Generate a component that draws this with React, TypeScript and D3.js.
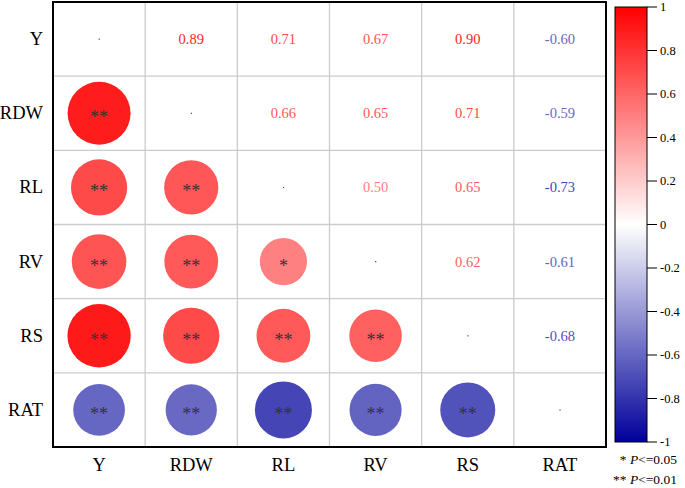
import React from "react";
import * as d3 from "d3";

const variables = ["Y", "RDW", "RL", "RV", "RS", "RAT"];
// correlation matrix (symmetric)
const corrY = [1, 0.89, 0.71, 0.67, 0.90, -0.60];
const corrRDW = [0.89, 1, 0.66, 0.65, 0.71, -0.59];
const corrRL = [0.71, 0.66, 1, 0.50, 0.65, -0.73];
const corrRV = [0.67, 0.65, 0.50, 1, 0.62, -0.61];
const corrRS = [0.90, 0.71, 0.65, 0.62, 1, -0.68];
const corrRAT = [-0.60, -0.59, -0.73, -0.61, -0.68, 1];
const matrix = [corrY, corrRDW, corrRL, corrRV, corrRS, corrRAT];
// significance stars for lower triangle
const sigY = ["", "", "", "", "", ""];
const sigRDW = ["**", "", "", "", "", ""];
const sigRL = ["**", "**", "", "", "", ""];
const sigRV = ["**", "**", "*", "", "", ""];
const sigRS = ["**", "**", "**", "**", "", ""];
const sigRAT = ["**", "**", "**", "**", "**", ""];
const sigMatrix = [sigY, sigRDW, sigRL, sigRV, sigRS, sigRAT];
const colorbarTicks = [1, 0.8, 0.6, 0.4, 0.2, 0, -0.2, -0.4, -0.6, -0.8, -1];

const W = 685;
const H = 488;
const FONT = "Liberation Serif";
const fmt2 = (v: number) => v.toFixed(2);
const fmtTick = (v: number) => String(v);

export default function App() {
  const x0 = 53, x1 = 606, y0 = 2, y1 = 447;
  const xs = d3.scaleBand<string>().domain(variables).range([x0, x1]);
  const ys = d3.scaleBand<string>().domain(variables).range([y0, y1]);
  const color = d3
    .scaleLinear<string>()
    .domain([-1, 0, 1])
    .range(["#00009B", "#FFFFFF", "#FF0000"])
    .interpolate(d3.interpolateRgb);
  const cellMin = Math.min(xs.bandwidth(), ys.bandwidth());
  const rScale = d3.scaleSqrt().domain([0, 1]).range([0, cellMin * 0.45]);

  const cbX = 615, cbW = 32, cbTop = 7, cbBottom = 442;
  const cbScale = d3.scaleLinear().domain([-1, 1]).range([cbBottom, cbTop]);
  const gradStops = d3.range(0, 21).map((i) => -1 + i * 0.1);
  const ts = { fontFamily: FONT };

  const cells: React.ReactNode[] = [];
  variables.forEach((rv, i) => {
    variables.forEach((cv, j) => {
      const cx = xs(cv)! + xs.bandwidth() / 2;
      const cy = ys(rv)! + ys.bandwidth() / 2;
      const v = matrix[i][j];
      if (i === j) {
        cells.push(<rect key={`d${i}`} x={cx - 0.5} y={cy - 0.5} width={1.2} height={1.2} fill="#444" />);
      } else if (i > j) {
        cells.push(
          <g key={`c${i}-${j}`}>
            <circle cx={cx} cy={cy} r={rScale(Math.abs(v))} fill={color(v)} />
            <text x={cx} y={cy + 10} textAnchor="middle" fontSize={18} fill="#333" style={ts}>
              {sigMatrix[i][j]}
            </text>
          </g>
        );
      } else {
        cells.push(
          <text key={`t${i}-${j}`} x={cx} y={cy + 5} textAnchor="middle" fontSize={14.5} fill={color(v)} style={ts}>
            {fmt2(v)}
          </text>
        );
      }
    });
  });

  return (
    <div style={{ position: "absolute", left: 0, top: 0 }}>
      <svg width={W} height={H} style={{ display: "block", background: "#fff", fontFamily: FONT }}>
        <defs>
          <linearGradient id="cbGrad" x1="0" y1="1" x2="0" y2="0">
            {gradStops.map((s, k) => (
              <stop key={k} offset={(s + 1) / 2} stopColor={color(s)} />
            ))}
          </linearGradient>
        </defs>
        {/* grid */}
        {variables.slice(1).map((v) => (
          <line key={`gv${v}`} x1={xs(v)} x2={xs(v)} y1={y0} y2={y1} stroke="#cccccc" strokeWidth={1.3} />
        ))}
        {variables.slice(1).map((v) => (
          <line key={`gh${v}`} x1={x0} x2={x1} y1={ys(v)} y2={ys(v)} stroke="#cccccc" strokeWidth={1.3} />
        ))}
        {cells}
        <rect x={x0} y={y0} width={x1 - x0} height={y1 - y0} fill="none" stroke="#000" strokeWidth={2} />
        {/* axis labels */}
        {variables.map((v) => (
          <text key={`yl${v}`} x={43} y={ys(v)! + ys.bandwidth() / 2 + 6} textAnchor="end" fontSize={18.5} fill="#000" style={ts}>
            {v}
          </text>
        ))}
        {variables.map((v) => (
          <text key={`xl${v}`} x={xs(v)! + xs.bandwidth() / 2} y={471} textAnchor="middle" fontSize={18.5} fill="#000" style={ts}>
            {v}
          </text>
        ))}
        {/* colorbar */}
        <rect x={cbX} y={cbTop} width={cbW} height={cbBottom - cbTop} fill="url(#cbGrad)" stroke="#000" strokeWidth={1} />
        {colorbarTicks.map((t) => (
          <g key={`cb${t}`}>
            <line x1={cbX + cbW} x2={cbX + cbW + 10} y1={cbScale(t)} y2={cbScale(t)} stroke="#000" strokeWidth={1} />
            <text x={cbX + cbW + 13} y={cbScale(t) + 4} fontSize={12.5} fill="#000" style={ts}>
              {fmtTick(t)}
            </text>
          </g>
        ))}
        {/* significance legend */}
        <text x={677} y={464} textAnchor="end" fontSize={13.5} fill="#000" style={ts}>
          {"* "}
          <tspan fontStyle="italic">P</tspan>
          {"<=0.05"}
        </text>
        <text x={677} y={484} textAnchor="end" fontSize={13.5} fill="#000" style={ts}>
          {"** "}
          <tspan fontStyle="italic">P</tspan>
          {"<=0.01"}
        </text>
      </svg>
    </div>
  );
}
